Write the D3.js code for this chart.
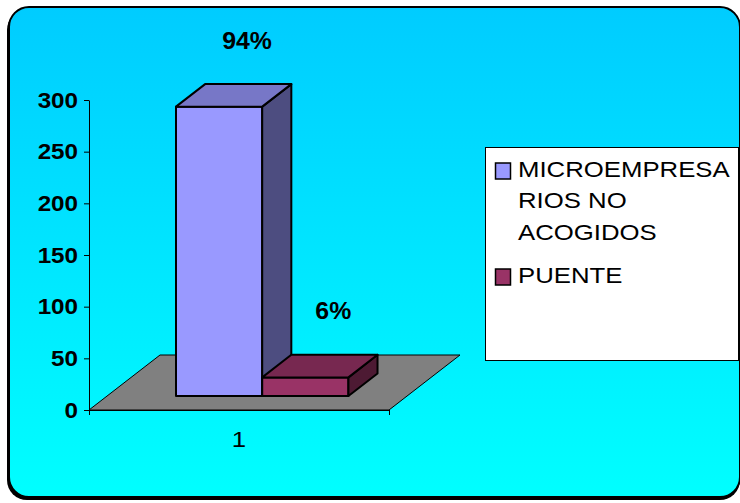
<!DOCTYPE html>
<html>
<head>
<meta charset="utf-8">
<script src="https://cdn.jsdelivr.net/npm/d3@7"></script>
<style>
  html, body { margin: 0; padding: 0; background: #ffffff; }
  svg { display: block; }
</style>
</head>
<body>
<svg id="chart" width="740" height="503"></svg>
<script>
// data
const categories = ['1'];
const seriesNames = ['MICROEMPRESARIOS NO ACOGIDOS', 'PUENTE'];
const legendLines = [['MICROEMPRESA', 'RIOS NO', 'ACOGIDOS'], ['PUENTE']];
const values = [280, 18];
const percentLabels = ['94%', '6%'];
const yTicks = [0, 50, 100, 150, 200, 250, 300];
const colors = ['#9999FF', '#993366'];

const W = 740, H = 503;
const plot = { left: 89, right: 389, top: 100, bottom: 410 };
// oblique depth of the floor
const depth = { dx: 71, dy: -55 };
const barFront = 0.255, barDepth = 0.41;
const fontFamily = "'Liberation Sans', Arial, sans-serif";
const stretchX = 1.12;

const svg = d3.select('#chart');

// stretch text horizontally around its anchor point
function stretch(sel, k) {
    sel.attr('transform', function() {
        const x = +d3.select(this).attr('x') || 0;
        const y = +d3.select(this).attr('y') || 0;
        return 'translate(' + x + ',' + y + ') scale(' + k + ',1) translate(' + (-x) + ',' + (-y) + ')';
    });
}

function shade(c, k) {
    const rgb = d3.rgb(c);
    return d3.rgb(rgb.r * k, rgb.g * k, rgb.b * k).formatHex();
}

// Background
const defs = svg.append('defs');
const grad = defs.append('linearGradient')
    .attr('id', 'bg')
    .attr('x1', 0).attr('y1', 0)
    .attr('x2', 0).attr('y2', 1);
grad.append('stop').attr('offset', '0%').attr('stop-color', '#00CCFF');
grad.append('stop').attr('offset', '100%').attr('stop-color', '#00FFFF');

svg.append('rect')
    .attr('x', 7).attr('y', 10)
    .attr('width', 733).attr('height', 490)
    .attr('rx', 20).attr('ry', 20)
    .attr('fill', '#000');

svg.append('rect')
    .attr('x', 9).attr('y', 7)
    .attr('width', 731).attr('height', 490)
    .attr('rx', 20).attr('ry', 20)
    .attr('fill', 'url(#bg)')
    .attr('stroke', '#000')
    .attr('stroke-width', 2);

// Scales
const y = d3.scaleLinear()
    .domain([0, 300])
    .range([plot.bottom, plot.top]);

const x0 = d3.scaleBand()
    .domain(categories)
    .range([plot.left, plot.right])
    .paddingInner(0)
    .paddingOuter(0.37)
    .align(0.54);

const x1 = d3.scaleBand()
    .domain(seriesNames)
    .range([0, x0.bandwidth()]);

// Floor
const floor = [
    [plot.left, plot.bottom],
    [plot.right, plot.bottom],
    [plot.right + depth.dx, plot.bottom + depth.dy],
    [plot.left + depth.dx, plot.bottom + depth.dy]
];
svg.append('path')
    .attr('d', d3.line()(floor) + 'Z')
    .attr('fill', '#808080')
    .attr('stroke', '#000')
    .attr('stroke-width', 1);

// Y axis
const yAxis = svg.append('g')
    .attr('transform', 'translate(' + plot.left + ',0)')
    .call(d3.axisLeft(y).tickValues(yTicks).tickSize(5).tickPadding(5).tickSizeOuter(0));
yAxis.select('.domain').attr('stroke', '#000');
yAxis.selectAll('.tick line').attr('stroke', '#000');
yAxis.selectAll('.tick text')
    .attr('fill', '#000')
    .style('font-family', fontFamily)
    .style('font-size', '22px')
    .style('font-weight', 'bold')
    .attr('transform', 'scale(1.1,1)');

// X axis
const xAxis = svg.append('g')
    .attr('transform', 'translate(0,' + plot.bottom + ')')
    .call(d3.axisBottom(d3.scaleLinear().domain([0, 1]).range([plot.left, plot.right]))
        .tickValues([0, 1]).tickSize(5).tickFormat(''));
xAxis.select('.domain').attr('stroke', '#000');
xAxis.selectAll('.tick line').attr('stroke', '#000');

svg.selectAll('.cat')
    .data(categories)
    .enter()
    .append('text')
    .attr('class', 'cat')
    .attr('x', (d) => (plot.left + plot.right) / 2)
    .attr('y', 447)
    .attr('text-anchor', 'middle')
    .style('font-family', fontFamily)
    .style('font-size', '23px')
    .text((d) => d)
    .call(stretch, stretchX);

// Bars
const fdx = barFront * depth.dx, fdy = barFront * depth.dy;
const bdx = barDepth * depth.dx, bdy = barDepth * depth.dy;

const bars = seriesNames.map((s, i) => {
    const xl = x0(categories[0]) + x1(s) + fdx;
    const xr = xl + x1.bandwidth();
    const yb = y(0) + fdy;
    const yt = y(values[i]) + fdy;
    return { name: s, i: i, xl: xl, xr: xr, yb: yb, yt: yt };
});

const barG = svg.selectAll('.bar')
    .data(bars)
    .enter()
    .append('g')
    .attr('class', 'bar');

// front
barG.append('path')
    .attr('d', (d) => d3.line()([[d.xl, d.yb], [d.xr, d.yb], [d.xr, d.yt], [d.xl, d.yt]]) + 'Z')
    .attr('fill', (d) => colors[d.i])
    .attr('stroke', '#000')
    .attr('stroke-width', 2)
    .attr('stroke-linejoin', 'round');

// side
barG.append('path')
    .attr('d', (d) => d3.line()([[d.xr, d.yb], [d.xr + bdx, d.yb + bdy], [d.xr + bdx, d.yt + bdy], [d.xr, d.yt]]) + 'Z')
    .attr('fill', (d) => shade(colors[d.i], 0.5))
    .attr('stroke', '#000')
    .attr('stroke-width', 2)
    .attr('stroke-linejoin', 'round');

// top
barG.append('path')
    .attr('d', (d) => d3.line()([[d.xl, d.yt], [d.xr, d.yt], [d.xr + bdx, d.yt + bdy], [d.xl + bdx, d.yt + bdy]]) + 'Z')
    .attr('fill', (d) => shade(colors[d.i], 0.78))
    .attr('stroke', '#000')
    .attr('stroke-width', 2)
    .attr('stroke-linejoin', 'round');

// Percent labels
svg.selectAll('.pct')
    .data(bars)
    .enter()
    .append('text')
    .attr('class', 'pct')
    .attr('x', (d) => (d.xl + d.xr) / 2 + 28)
    .attr('y', (d) => d.yt - 58)
    .attr('text-anchor', 'middle')
    .style('font-family', fontFamily)
    .style('font-size', '23px')
    .style('font-weight', 'bold')
    .text((d) => percentLabels[d.i])
    .call(stretch, 1.08);

// Legend
const legend = svg.append('g');
legend.append('rect')
    .attr('x', 485.5).attr('y', 147.5)
    .attr('width', 253).attr('height', 213)
    .attr('fill', '#fff')
    .attr('stroke', '#000')
    .attr('stroke-width', 1);

const lineH = 31.5, entryGap = 11.5;
let baseline = 177;
legendLines.forEach((lines, i) => {
    legend.append('rect')
        .attr('x', 495.5).attr('y', baseline - 14)
        .attr('width', 15).attr('height', 16)
        .attr('fill', colors[i])
        .attr('stroke', '#000')
        .attr('stroke-width', 1.5);

    lines.forEach((t, j) => {
        legend.append('text')
            .attr('x', 518)
            .attr('y', baseline + j * lineH)
            .style('font-family', fontFamily)
            .style('font-size', '23px')
            .text(t)
            .call(stretch, stretchX);
    });
    baseline += lines.length * lineH + entryGap;
});
</script>
</body>
</html>
